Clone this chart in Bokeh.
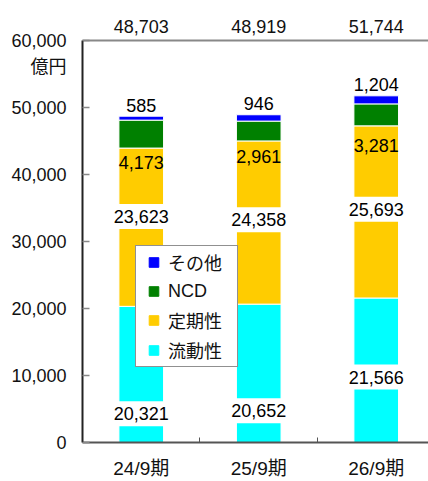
import numpy as np
from bokeh.plotting import figure
from bokeh.models import (ColumnDataSource, Range1d, FixedTicker, NumeralTickFormatter,
                          LinearAxis, Legend, LegendItem, Label)
from bokeh.embed import file_html
from bokeh.resources import INLINE

# ---- data ----
periods = ["24/9期", "25/9期", "26/9期"]
liquid = [20321, 20652, 21566]   # 流動性
fixed = [23623, 24358, 25693]    # 定期性
ncd = [4173, 2961, 3281]         # NCD
other = [585, 946, 1204]         # その他
totals = ["48,703", "48,919", "51,744"]
series_names = ["流動性", "定期性", "NCD", "その他"]
y_ticks = [0, 10000, 20000, 30000, 40000, 50000, 60000]
unit_label = "億円"
unit_label_at = 56000

# ---- styles / layout ----
colors = ["#00FFFF", "#FFCC00", "#008000", "#0000FF"]
liq_frac = [0.256, 0.272, 0.494]     # label placement within segment
fix_frac = [0.606, 0.554, 0.550]
ncd_drop_px = [14, 16, 20]
BOX_SHIFT_PX = -6
NUM_FONT = "Liberation Sans"
JP_FONT = "Liberation Sans, Noto Sans CJK JP"

x = [i + 0.5 for i in range(len(periods))]
data = {"x": x, "hidden": [float("nan")] * len(x)}
for name, vals in zip(series_names, [liquid, fixed, ncd, other]):
    data[name] = vals
src = ColumnDataSource(data)

p = figure(width=428, height=481, x_range=Range1d(0, 2.945), y_range=Range1d(0, 60000),
           min_border_left=82, min_border_right=0, min_border_top=40, min_border_bottom=38,
           toolbar_location=None, output_backend="svg", outline_line_color=None)
p.grid.visible = False

renderers = p.vbar_stack(series_names, x="x", width=0.38, fill_color=colors,
                         line_color="white", line_width=1, source=src)

# x axis
xa = p.xaxis[0]
xa.ticker = FixedTicker(ticks=x, minor_ticks=[1, 2])
xa.major_label_overrides = {float(v): lab for v, lab in zip(x, periods)}
xa.major_tick_in = 0
xa.major_tick_out = 0
xa.minor_tick_in = 5
xa.minor_tick_out = 0
xa.minor_tick_line_color = "#555555"
xa.axis_line_color = "#555555"
xa.axis_line_width = 2
xa.major_label_text_font = JP_FONT
xa.major_label_text_font_size = "19px"
xa.major_label_text_color = "#111111"
xa.major_label_standoff = 15

# y axis (inner: line + ticks only)
ya = p.yaxis[0]
ya.ticker = FixedTicker(ticks=y_ticks)
ya.major_tick_in = 7
ya.major_tick_out = 0
ya.major_tick_line_color = "#888888"
ya.major_tick_line_width = 1.5
ya.minor_tick_line_color = None
ya.axis_line_color = "#222222"
ya.axis_line_width = 2
ya.major_label_text_font_size = "1px"
ya.major_label_text_color = None
ya.major_label_standoff = 0

# y axis labels (outer axis, also carries the unit label)
ylab = LinearAxis(ticker=FixedTicker(ticks=y_ticks + [unit_label_at]),
                  formatter=NumeralTickFormatter(format="0,0"),
                  major_label_overrides={unit_label_at: unit_label},
                  axis_line_color=None, major_tick_line_color=None,
                  minor_tick_line_color=None, major_tick_in=0, major_tick_out=0,
                  major_label_text_font=JP_FONT, major_label_text_font_size="18px",
                  major_label_text_color="#111111", major_label_standoff=16)
p.add_layout(ylab, "left")

# top axis: totals
top = LinearAxis(ticker=FixedTicker(ticks=x),
                 major_label_overrides={float(v): t for v, t in zip(x, totals)},
                 axis_line_color="#888888", axis_line_width=2,
                 major_tick_line_color=None, minor_tick_line_color=None,
                 major_tick_in=0, major_tick_out=0,
                 major_label_text_font=NUM_FONT, major_label_text_font_size="18px",
                 major_label_text_color="#111111", major_label_standoff=8)
p.add_layout(top, "above")

def add_label(xv, yv, txt, bg=None, yoff=0, xoff=0):
    kw = dict(x=xv, y=yv, text=txt, text_align="center", text_baseline="middle",
              text_font=NUM_FONT, text_font_size="18px", text_color="#000000",
              x_offset=xoff, y_offset=yoff)
    if bg:
        kw.update(background_fill_color=bg, padding=6)
    p.add_layout(Label(**kw))

for i in range(len(periods)):
    add_label(x[i], liquid[i] * liq_frac[i], f"{liquid[i]:,}", bg="white", yoff=BOX_SHIFT_PX)
    add_label(x[i], liquid[i] + fixed[i] * fix_frac[i], f"{fixed[i]:,}", bg="white",
              yoff=BOX_SHIFT_PX)
    add_label(x[i], liquid[i] + fixed[i], f"{ncd[i]:,}", yoff=-ncd_drop_px[i])
    add_label(x[i], liquid[i] + fixed[i] + ncd[i] + other[i], f"{other[i]:,}", yoff=11)

# legend swatches (square markers; their points are NaN so nothing is drawn in the plot)
swatches = []
for c in colors:
    swatches.append(p.scatter(x="x", y="hidden", source=src, marker="square",
                              fill_color=c, line_color=c))

items = [LegendItem(label=n, renderers=[r], index=0)
         for n, r in zip(series_names, swatches)][::-1]
legend = Legend(items=items, location=(53, 75), padding=3, spacing=4, label_height=24,
                glyph_height=24, glyph_width=29, label_standoff=0, label_width=66, margin=0,
                border_line_color="#222222", border_line_width=1.5,
                label_text_font=JP_FONT, label_text_font_size="18px",
                label_text_color="#111111", background_fill_color="white",
                background_fill_alpha=1.0)
p.add_layout(legend)

open("out.html", "w").write(file_html(p, INLINE))
